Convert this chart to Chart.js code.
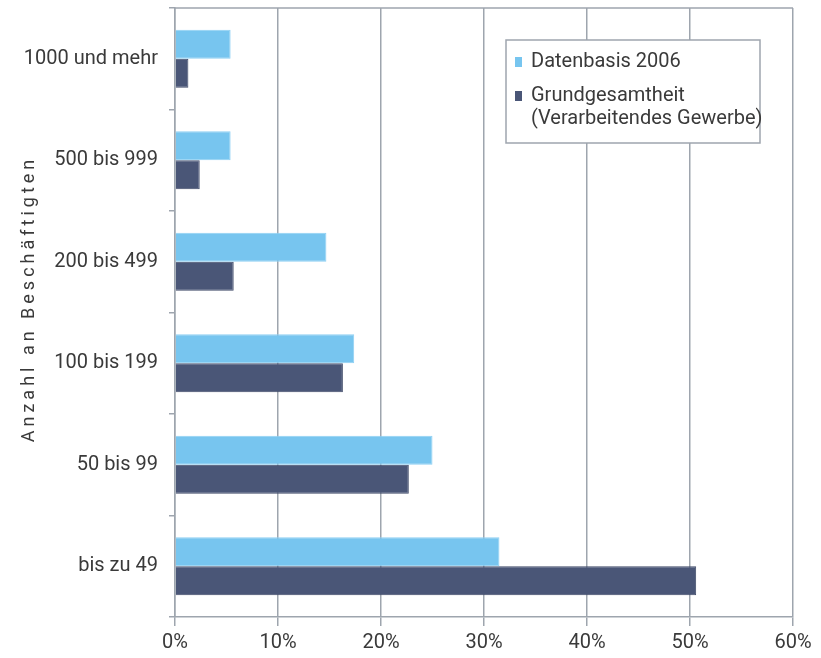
<!DOCTYPE html>
<html><head><meta charset="utf-8">
<script src="https://cdn.jsdelivr.net/npm/chart.js@4/dist/chart.umd.min.js"></script>
<style>html,body{margin:0;padding:0;background:#fff}#wrap{width:821px;height:658px}</style>
</head><body><div id="wrap"><canvas id="c" width="821" height="658"></canvas></div>
<script>
const categories = ['1000 und mehr', '500 bis 999', '200 bis 499', '100 bis 199', '50 bis 99', 'bis zu 49'];
const datenbasis2006 = [5.4, 5.4, 14.7, 17.4, 25.0, 31.5];
const grundgesamtheit = [1.3, 2.4, 5.7, 16.3, 22.7, 50.6];
const xTickValues = [0, 10, 20, 30, 40, 50, 60];
const seriesNames = ['Datenbasis 2006', 'Grundgesamtheit (Verarbeitendes Gewerbe)'];
const legendLines = [['Datenbasis 2006'], ['Grundgesamtheit', '(Verarbeitendes Gewerbe)']];
const axisTitle = 'Anzahl an Beschäftigten';

const FONT = "Roboto, 'Liberation Sans', sans-serif";
const GRID = '#9ea5ae';
const TEXT = '#3a3a3a';
const LIGHT = '#77c5ef';
const DARK = '#4a5677';

const extras = {
  id: 'extras',
  beforeDatasetsDraw(chart) {
    const {ctx, chartArea: a} = chart;
    ctx.save();
    ctx.strokeStyle = GRID; ctx.lineWidth = 1.5;
    ctx.beginPath(); ctx.moveTo(a.left, a.top); ctx.lineTo(a.right, a.top); ctx.stroke();
    ctx.restore();
  },
  afterDraw(chart) {
    const {ctx} = chart;
    // y-axis title
    ctx.save();
    ctx.translate(29, 299);
    ctx.rotate(-Math.PI / 2);
    ctx.font = '18px ' + FONT;
    try { ctx.letterSpacing = '4px'; } catch (e) {}
    ctx.fillStyle = TEXT;
    ctx.textAlign = 'center'; ctx.textBaseline = 'middle';
    ctx.fillText(axisTitle, 0, 0);
    ctx.restore();
    // legend box
    ctx.save();
    const bx = 506, by = 40, bw = 254, bh = 103;
    ctx.fillStyle = '#fff';
    ctx.fillRect(bx, by, bw, bh);
    ctx.strokeStyle = GRID; ctx.lineWidth = 1.5;
    ctx.strokeRect(bx, by, bw, bh);
    ctx.font = '20px ' + FONT;
    ctx.textBaseline = 'alphabetic';
    ctx.textAlign = 'left';
    const baselines = [[67], [101, 124]];
    chart.data.datasets.forEach((ds, i) => {
      const b0 = baselines[i][0];
      ctx.fillStyle = ds.backgroundColor;
      ctx.fillRect(515, b0 - 10, 7, 10);
      ctx.fillStyle = TEXT;
      legendLines[i].forEach((t, j) => ctx.fillText(t, 531, baselines[i][j]));
    });
    ctx.restore();
  }
};

new Chart(document.getElementById('c'), {
  type: 'bar',
  data: {
    labels: categories,
    datasets: [
      { label: seriesNames[0], data: datenbasis2006, backgroundColor: LIGHT, borderColor: '#8fd0f3', borderWidth: 1,
        categoryPercentage: 0.57, barPercentage: 1.0 },
      { label: seriesNames[1], data: grundgesamtheit, backgroundColor: DARK, borderColor: '#3f4a68', borderWidth: 1,
        categoryPercentage: 0.57, barPercentage: 1.0 }
    ]
  },
  options: {
    indexAxis: 'y',
    responsive: false,
    animation: false,
    devicePixelRatio: 1,
    layout: { padding: { top: 8, right: 28, bottom: 0, left: 0 } },
    plugins: { legend: { display: false }, tooltip: { enabled: false } },
    scales: {
      x: {
        min: 0, max: 60,
        afterBuildTicks: s => { s.ticks = xTickValues.map(v => ({ value: v })); },
        afterFit: s => { s.height = 41; s.paddingLeft = 0; s.paddingRight = 0; },
        ticks: { callback: v => v + '%', font: { family: FONT, size: 20 }, color: TEXT, padding: 5, maxRotation: 0 },
        grid: { color: GRID, lineWidth: 1.5, tickLength: 9 },
        border: { color: GRID, width: 1.5 }
      },
      y: {
        afterFit: s => { s.width = 175; s.paddingTop = 0; s.paddingBottom = 0; },
        ticks: { font: { family: FONT, size: 20 }, color: TEXT, padding: 11 },
        grid: { drawOnChartArea: false, drawTicks: true, tickLength: 6, color: GRID, lineWidth: 1.5, offset: true },
        border: { color: GRID, width: 1.5 }
      }
    }
  },
  plugins: [extras]
});
</script>
</body></html>
